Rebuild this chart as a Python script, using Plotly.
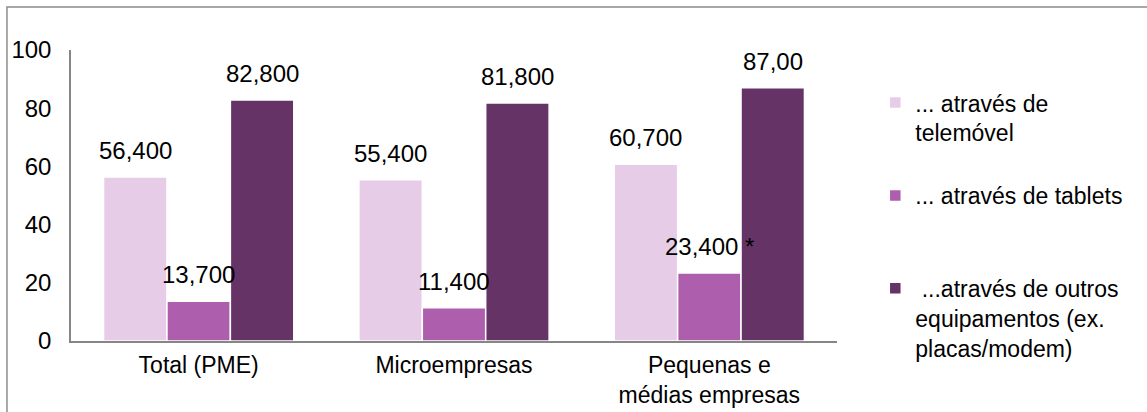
import plotly.graph_objects as go

# Categories and series
categories = ["Total (PME)", "Microempresas", "Pequenas e<br>médias empresas"]
series_names = [
    "... através de<br>telemóvel",
    "... através de tablets<br> ",
    " ...através de outros<br>equipamentos (ex.<br>placas/modem)",
]
telemovel = [56.4, 55.4, 60.7]
tablets = [13.7, 11.4, 23.4]
outros = [82.8, 81.8, 87.0]
series_values = [telemovel, tablets, outros]

# Value labels as printed above each bar
telemovel_labels = ["56,400", "55,400", "60,700"]
tablets_labels = ["13,700", "11,400", "23,400 *"]
outros_labels = ["82,800", "81,800", "87,00"]
series_labels = [telemovel_labels, tablets_labels, outros_labels]

y_ticks = [0, 20, 40, 60, 80, 100]

colors = ["#E6CCE6", "#AD5FAD", "#663366"]
FONT = "Liberation Sans, Arial, sans-serif"
BARGAP = 0.255

fig = go.Figure()
for i, (name, vals) in enumerate(zip(series_names, series_values)):
    fig.add_trace(go.Bar(
        x=list(range(len(categories))),
        y=vals,
        name=name,
        legendgroup=f"g{i}",
        marker=dict(color=colors[i], line=dict(color="white", width=1.5)),
        hoverinfo="skip",
    ))

# Data labels placed above each bar, aligned with the grouped-bar slots
n = len(series_values)
slot = (1 - BARGAP) / n
annotations = []
for k, (vals, labs) in enumerate(zip(series_values, series_labels)):
    for i, (v, t) in enumerate(zip(vals, labs)):
        annotations.append(dict(
            x=i + (k - (n - 1) / 2) * slot, y=v, xref="x", yref="y",
            text=t, showarrow=False, yanchor="bottom", yshift=11,
            font=dict(family=FONT, size=24, color="#000000"),
        ))

fig.update_layout(
    width=1147, height=412,
    margin=dict(l=71, r=310, t=50, b=71, autoexpand=False),
    paper_bgcolor="white", plot_bgcolor="white",
    barmode="group", bargap=BARGAP, bargroupgap=0,
    font=dict(family=FONT, size=24, color="#000000"),
    annotations=annotations,
    legend=dict(
        x=1.05, y=0.893, xanchor="left", yanchor="top",
        valign="top", tracegroupgap=30, maxheight=400,
        font=dict(family=FONT, size=23, color="#000000"),
        bgcolor="rgba(0,0,0,0)",
    ),
    xaxis=dict(
        tickmode="array", tickvals=list(range(len(categories))), ticktext=categories,
        range=[-0.5, len(categories) - 0.5],
        showline=True, linecolor="#868686", linewidth=1.5,
        showgrid=False, zeroline=False, ticks="",
        ticklabelstandoff=3, automargin=False,
        tickfont=dict(family=FONT, size=23, color="#000000"),
    ),
    yaxis=dict(
        range=[0, 100], tickvals=y_ticks,
        showline=True, linecolor="#868686", linewidth=1.5,
        showgrid=False, zeroline=False, ticks="",
        ticklabelstandoff=13, automargin=False,
    ),
    shapes=[dict(
        type="rect", xref="paper", yref="paper",
        x0=-0.0836, x1=1.6, y0=-0.4, y1=1.148,
        line=dict(color="#8C8C8C", width=1.5), fillcolor="rgba(0,0,0,0)",
        layer="below",
    )],
)

fig.write_html("out.html")
